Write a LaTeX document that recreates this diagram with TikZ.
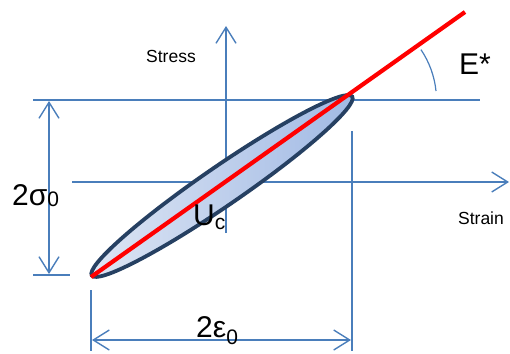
\documentclass[tikz,border=0pt]{standalone}
\usepackage{fontspec}
\setmainfont{Liberation Sans}
\usetikzlibrary{arrows.meta,positioning}

\definecolor{axisblue}{RGB}{74,126,187}
\definecolor{loopedge}{RGB}{38,64,98}
\definecolor{loopdark}{RGB}{160,185,228}
\definecolor{looplight}{RGB}{222,230,244}
\definecolor{moduluscol}{RGB}{255,0,0}

\newcommand{\bigtxt}{\fontsize{30}{30}\selectfont}
\newcommand{\subtxt}{\fontsize{21}{21}\selectfont}
\newcommand{\smalltxt}{\fontsize{17.5}{17.5}\selectfont}

\begin{document}
\begin{tikzpicture}[x=1pt,y=-1pt,
    axis/.style={draw=axisblue, line width=1.4pt},
    barb/.style={-{Straight Barb[length=16pt,width=20pt,line width=1.4pt]}},
    twobarb/.style={{Straight Barb[length=16pt,width=20pt,line width=1.4pt]}-{Straight Barb[length=16pt,width=20pt,line width=1.4pt]}},
    lbl/.style={inner sep=0pt, text=black}]

        \useasboundingbox (0,0) rectangle (510,353);

        % axes
        \coordinate (stressbot) at (226,233);
        \coordinate (stresstop) at (226,26);
        \coordinate (strainleft) at (72,182);
        \coordinate (strainright) at (509,182);
        \draw[axis,barb] (stressbot) -- (stresstop);
        \draw[axis,barb] (strainleft) -- (strainright);

        % extension lines
        \coordinate (peakleft) at (33,100);
        \coordinate (peakright) at (480,100);
        \coordinate (lowleft) at (33,275);
        \coordinate (lowright) at (70,275);
        \draw[axis] (peakleft) -- (peakright);
        \draw[axis] (lowleft) -- (lowright);
        \coordinate (minstraintop) at (91,290);
        \coordinate (minstrainbot) at (91,351);
        \coordinate (maxstraintop) at (352,131);
        \coordinate (maxstrainbot) at (352,351);
        \draw[axis] (minstraintop) -- (minstrainbot);
        \draw[axis] (maxstraintop) -- (maxstrainbot);

        % dimension arrows
        \coordinate (sigtop) at (49,101);
        \coordinate (sigbot) at (49,274);
        \coordinate (epsleft) at (92,340);
        \coordinate (epsright) at (351,340);
        \draw[axis,twobarb] (sigtop) -- (sigbot);
        \draw[axis,twobarb] (epsleft) -- (epsright);

        % hysteresis loop
        \draw[loopedge, line width=3.8pt, left color=looplight, right color=loopdark,
              shift={(222,186)}, rotate=34.5] (0,0) ellipse [x radius=158, y radius=19.5];

        % secant modulus
        \coordinate (loopstart) at (91,277);
        \coordinate (loopend) at (465,12);
        \draw[moduluscol, line width=4.2pt] (loopstart) -- (loopend);
        \coordinate (arcstart) at (436,91);
        \draw[axisblue, line width=1.2pt] (arcstart) arc[start angle=-6, end angle=-34, radius=91];

        % labels
        \node[lbl, anchor=base west] (sigma) at (12,205) {\bigtxt 2σ\raisebox{-1pt}{\subtxt 0}};
        \node[lbl, anchor=base west] (eps) at (196,337) {\bigtxt 2ε\raisebox{-7pt}{\subtxt 0}};
        \node[lbl, anchor=base west] (modulus) at (459,74) {\bigtxt E*};
        \node[lbl, anchor=base west] (energy) at (193,225) {\bigtxt U\raisebox{-4pt}{\subtxt c}};
        \node[lbl] (stress) at (171,56) {\smalltxt Stress};
        \node[lbl] (strain) at (481,218) {\smalltxt Strain};
      \end{tikzpicture}
\end{document}
